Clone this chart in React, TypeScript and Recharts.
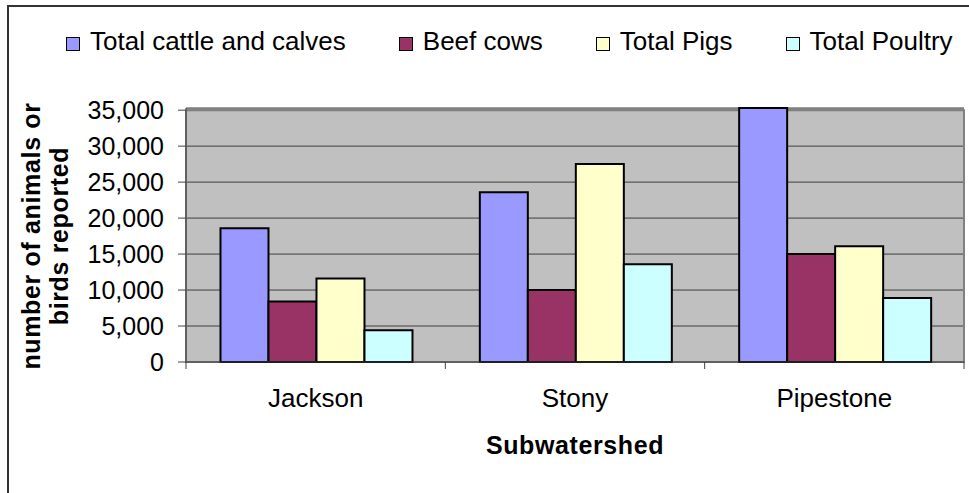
import React from 'react'
import { BarChart, Bar, XAxis, YAxis, CartesianGrid, Legend, ReferenceArea, Label } from 'recharts'

const subwatersheds = ['Jackson', 'Stony', 'Pipestone']
const totalCattle = [18600, 23600, 35300]
const beefCows = [8400, 10000, 15000]
const totalPigs = [11600, 27500, 16100]
const totalPoultry = [4400, 13600, 8900]
const yTicks = [0, 5000, 10000, 15000, 20000, 25000, 30000, 35000]

const series = [
  { key: 'cattle', name: 'Total cattle and calves', color: '#9999FF' },
  { key: 'beef', name: 'Beef cows', color: '#993366' },
  { key: 'pigs', name: 'Total Pigs', color: '#FFFFCC' },
  { key: 'poultry', name: 'Total Poultry', color: '#CCFFFF' },
]

const data = subwatersheds.map((name, i) => ({
  name,
  cattle: totalCattle[i],
  beef: beefCows[i],
  pigs: totalPigs[i],
  poultry: totalPoultry[i],
}))

const FONT = '"Liberation Sans", Arial, sans-serif'
const CHART_W = 969
const CHART_H = 493
const MARGIN = { top: 108, right: 5, bottom: 0, left: 0 }
const X_AXIS_H = 131
const Y_AXIS_W = 186
const PLOT_W = CHART_W - MARGIN.left - MARGIN.right - Y_AXIS_W
const BAND = PLOT_W / subwatersheds.length

// Excel-style category axis: tick marks sit between categories, not under them
const CategoryTick = ({ x, y, payload, index }: any) => {
  const left = x - BAND / 2
  const right = x + BAND / 2
  return (
    <g>
      <line x1={left} x2={left} y1={y} y2={y + 7} stroke="#404040" strokeWidth={1} />
      {index === subwatersheds.length - 1 && (
        <line x1={right} x2={right} y1={y} y2={y + 7} stroke="#404040" strokeWidth={1} />
      )}
      <text x={x} y={y + 45} textAnchor="middle" fontSize={26} fontFamily={FONT} fill="#000">
        {payload.value}
      </text>
    </g>
  )
}

const XTitle = ({ viewBox }: any) => (
  <text
    x={viewBox.x + viewBox.width / 2}
    y={viewBox.y + 92}
    textAnchor="middle"
    fontSize={25}
    fontWeight="bold"
    letterSpacing={0.6}
    fontFamily={FONT}
    fill="#000"
  >
    Subwatershed
  </text>
)

const YTitle = ({ viewBox }: any) => {
  const cy = viewBox.y + viewBox.height / 2 + 1
  return (
    <text
      transform={`translate(40, ${cy}) rotate(-90)`}
      textAnchor="middle"
      fontSize={25}
      fontWeight="bold"
      letterSpacing={0.65}
      fontFamily={FONT}
      fill="#000"
    >
      <tspan x={0} dy={0}>number of animals or</tspan>
      <tspan x={0} dy={27.5}>birds reported</tspan>
    </text>
  )
}

const LegendRow = () => (
  <div style={{ display: 'flex', alignItems: 'center', fontFamily: FONT, fontSize: 26, color: '#000', whiteSpace: 'nowrap' }}>
    {series.map((s, i) => (
      <div key={s.key} style={{ display: 'flex', alignItems: 'center', marginLeft: i ? 53 : 0 }}>
        <span
          style={{
            display: 'inline-block',
            width: 12,
            height: 12,
            border: '1px solid #000',
            background: s.color,
            marginTop: 5,
            marginRight: 10,
          }}
        />
        <span>{s.name}</span>
      </div>
    ))}
  </div>
)

export default function App() {
  return (
    <div style={{ position: 'absolute', left: 0, top: 0, width: CHART_W, height: CHART_H, background: '#fff', overflow: 'hidden' }}>
      <div
        style={{
          position: 'absolute',
          left: 7,
          top: 5,
          width: 1000,
          height: 600,
          borderLeft: '2px solid #333',
          borderTop: '2px solid #333',
        }}
      />
      <BarChart
        width={CHART_W}
        height={CHART_H}
        data={data}
        margin={MARGIN}
        barCategoryGap="13.3%"
        barGap={0}
      >
        <CartesianGrid vertical={false} fill="#C0C0C0" stroke="#3f3f3f" strokeWidth={1} />
        <ReferenceArea y1={0} y2={35000} fill="none" stroke="#808080" strokeWidth={2} />
        <XAxis
          dataKey="name"
          height={X_AXIS_H}
          axisLine={{ stroke: '#404040', strokeWidth: 1 }}
          tickLine={false}
          tickSize={0}
          tickMargin={0}
          tick={<CategoryTick />}
          interval={0}
        >
          <Label content={<XTitle />} />
        </XAxis>
        <YAxis
          width={Y_AXIS_W}
          domain={[0, 'dataMax']}
          ticks={yTicks}
          interval={0}
          tickFormatter={(v: number) => v.toLocaleString('en-US')}
          tick={{ fontSize: 25, fill: '#000', fontFamily: FONT }}
          tickSize={8}
          tickMargin={14}
          axisLine={{ stroke: '#404040', strokeWidth: 1 }}
          tickLine={{ stroke: '#404040', strokeWidth: 1 }}
        >
          <Label content={<YTitle />} />
        </YAxis>
        <Legend
          layout="horizontal"
          verticalAlign="middle"
          align="center"
          content={<LegendRow />}
          wrapperStyle={{ top: 26, left: 66, width: 'auto', height: 'auto' }}
        />
        {series.map((s) => (
          <Bar
            key={s.key}
            dataKey={s.key}
            name={s.name}
            fill={s.color}
            stroke="#000"
            strokeWidth={2}
            isAnimationActive={false}
          />
        ))}
      </BarChart>
    </div>
  )
}
